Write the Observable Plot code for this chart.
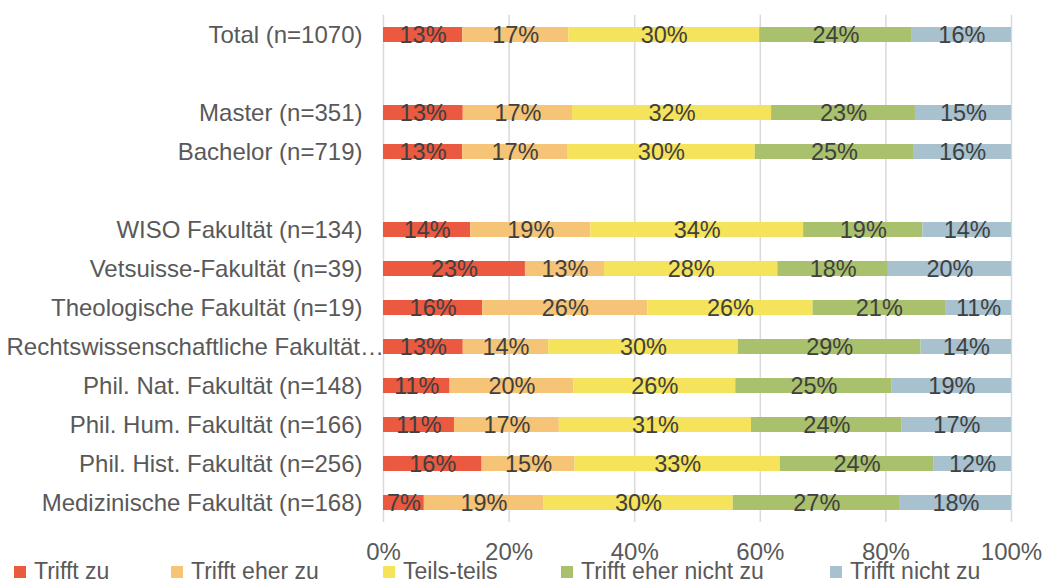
<!DOCTYPE html>
<html>
<head>
<meta charset="utf-8">
<script src="https://cdn.jsdelivr.net/npm/d3@7"></script>
<script src="https://cdn.jsdelivr.net/npm/@observablehq/plot@0.6"></script>
<style>
  html, body { margin: 0; padding: 0; background: #fff; }
  #wrap { position: relative; width: 1043px; height: 580px; overflow: hidden; font-family: "Liberation Sans", Arial, sans-serif; }
  #legend { position: absolute; left: 0; top: 559px; width: 1043px; height: 24px; }
  .item { position: absolute; top: 0; height: 24px; line-height: 24px; font-size: 23px; color: #595959; white-space: nowrap; }
  .sw { position: absolute; left: 0; top: 7px; width: 12px; height: 12px; }
  .lbl { position: absolute; left: 20px; top: 0; }
</style>
</head>
<body>
<div id="wrap"><div id="chart"></div><div id="legend"></div></div>
<script>
// Categories (top to bottom); blank strings are empty spacer rows
const categories = [
  "Total (n=1070)", " ", "Master (n=351)", "Bachelor (n=719)", "  ",
  "WISO Fakultät (n=134)", "Vetsuisse-Fakultät (n=39)", "Theologische Fakultät (n=19)",
  "Rechtswissenschaftliche Fakultät…", "Phil. Nat. Fakultät (n=148)", "Phil. Hum. Fakultät (n=166)",
  "Phil. Hist. Fakultät (n=256)", "Medizinische Fakultät (n=168)"
];
const responses = ["Trifft zu", "Trifft eher zu", "Teils-teils", "Trifft eher nicht zu", "Trifft nicht zu"];
const colors = ["#EA5940", "#F5C477", "#F5E35B", "#A9C06C", "#A7C1CF"];

// Percentages per response (null for spacer rows)
const trifftZu          = [12.6, null, 12.7, 12.6, null, 13.9, 22.6, 15.8, 12.7, 10.6, 11.3, 15.7, 6.5];
const trifftEherZu      = [16.9, null, 17.4, 16.7, null, 19.1, 12.6, 26.3, 13.6, 19.7, 16.7, 14.8, 19.0];
const teilsTeils        = [30.4, null, 31.7, 29.9, null, 33.9, 27.6, 26.3, 30.2, 25.8, 30.6, 32.7, 30.2];
const trifftEherNichtZu = [24.3, null, 22.9, 25.2, null, 19.0, 17.6, 21.1, 29.1, 24.9, 24.0, 24.4, 26.6];
const trifftNichtZu     = [15.8, null, 15.3, 15.6, null, 14.1, 19.6, 10.5, 14.4, 19.0, 17.4, 12.4, 17.7];

const xTicks = [0, 20, 40, 60, 80, 100];

const series = [trifftZu, trifftEherZu, teilsTeils, trifftEherNichtZu, trifftNichtZu];
const table = [];
categories.forEach((cat, i) => {
  series.forEach((arr, j) => {
    if (arr[i] != null) table.push({cat, resp: responses[j], value: arr[i]});
  });
});
const labelRows = categories.filter(c => c.trim() !== "");
const longLabel = "Rechtswissenschaftliche Fakultät…";

const chart = Plot.plot({
  width: 1043,
  height: 559,
  marginLeft: 383,
  marginRight: 32,
  marginTop: 14.7,
  marginBottom: 37,
  style: {fontFamily: "'Liberation Sans', Arial, sans-serif", fontSize: "24px", color: "#595959", background: "white", overflow: "visible"},
  x: {domain: [0, 100]},
  y: {domain: categories, paddingInner: 0.615, paddingOuter: 0.3075, axis: null},
  color: {domain: responses, range: colors},
  marks: [
    Plot.ruleX(xTicks, {stroke: "#d9d9d9", strokeWidth: 1.5}),
    Plot.barX(table, Plot.stackX({x: "value", y: "cat", fill: "resp", order: responses})),
    Plot.text(table, Plot.stackX({x: "value", y: "cat", z: "resp", order: responses,
      text: d => Math.round(d.value) + "%", fill: "#404040", fontSize: 23.5})),
    Plot.axisX({ticks: xTicks, tickFormat: d => d + "%", tickSize: 0, tickPadding: 20, fontSize: 24, fill: "#595959", label: null}),
    Plot.text(labelRows.filter(c => c !== longLabel), {y: d => d, text: d => d, frameAnchor: "left", dx: -21, textAnchor: "end", fontSize: 24, fill: "#595959"}),
    Plot.text([longLabel], {y: d => d, text: d => d, frameAnchor: "left", dx: -377, textAnchor: "start", fontSize: 24, fill: "#595959"})
  ]
});
document.getElementById("chart").appendChild(chart);

// Legend
const legendLefts = [14, 171, 383, 561, 830];
const legend = document.getElementById("legend");
responses.forEach((r, i) => {
  const it = document.createElement("div");
  it.className = "item";
  it.style.left = legendLefts[i] + "px";
  const sw = document.createElement("div");
  sw.className = "sw";
  sw.style.background = colors[i];
  const lb = document.createElement("span");
  lb.className = "lbl";
  lb.textContent = r;
  it.appendChild(sw); it.appendChild(lb);
  legend.appendChild(it);
});
</script>
</body>
</html>
